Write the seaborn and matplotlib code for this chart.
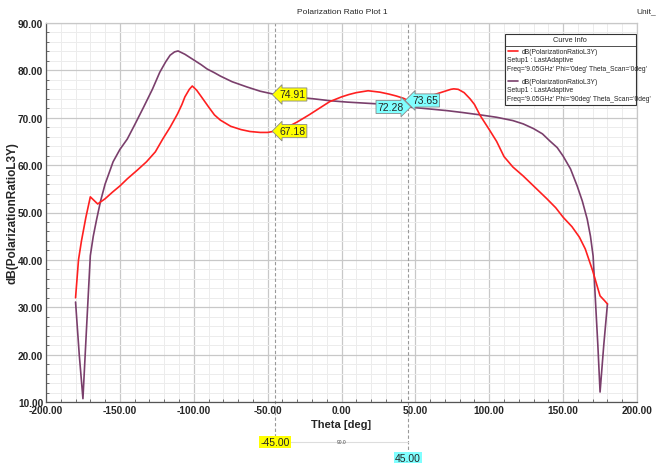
import matplotlib
matplotlib.use("Agg")
import matplotlib.pyplot as plt
from matplotlib import font_manager
from matplotlib.patches import Rectangle
import matplotlib.transforms as mtransforms
from matplotlib.ticker import MultipleLocator, FormatStrFormatter
import seaborn as sns
import pandas as pd

# ---- data ----
theta_phi0 = [-180, -178, -176, -173, -170, -165, -160, -155, -150, -145, -138, -132, -126,
              -121, -116, -111, -108, -106, -103, -101, -98, -95, -90, -86, -82, -75,
              -68, -62, -55, -50, -45, -38, -30, -22, -15, -8, 0, 5, 10, 18, 26, 32,
              37, 42, 45, 48, 52, 56, 60, 65, 70, 74, 76, 79, 83, 87, 90, 94, 100,
              105, 110, 116, 123, 131, 139, 145, 150, 156, 161, 165, 170, 173, 175, 178, 180]
ratio_phi0 = [32.0, 40.0, 44.0, 49.0, 53.3, 51.8, 52.9, 54.3, 55.6, 57.1, 59.0, 60.7, 62.8,
              65.5, 68.0, 70.8, 72.8, 74.4, 76.0, 76.7, 75.8, 74.5, 72.3, 70.6, 69.5, 68.2,
              67.5, 67.1, 66.9, 66.9, 67.18, 67.8, 69.1, 70.6, 72.0, 73.4, 74.4, 74.9, 75.3,
              75.7, 75.4, 75.0, 74.6, 74.1, 73.65, 73.7, 74.0, 74.3, 74.6, 75.1, 75.6, 76.0,
              76.1, 76.0, 75.3, 74.0, 72.8, 70.4, 67.5, 65.0, 61.8, 59.6, 57.7, 55.3, 52.9,
              51.0, 49.0, 47.0, 44.8, 42.3, 37.7, 34.5, 32.4, 31.4, 30.7]

theta_phi90 = [-180, -177.5, -175, -172.5, -170, -168, -165.7, -163, -160, -157, -154.6, -150,
               -145, -140, -134, -128, -123, -119, -116, -113, -110.6, -106, -100.5, -95,
               -91, -86, -82, -74, -64, -55, -45, -32, -19, -8, 4, 15, 26, 35, 45, 58,
               71.5, 82, 94, 105, 116, 123, 130, 136, 141, 146, 150, 155, 159.5, 163,
               166.3, 168.5, 170.3, 171.7, 173.5, 175, 177.5, 180]
ratio_phi90 = [31.1, 20.0, 10.7, 26.0, 40.9, 45.0, 48.6, 52.5, 56.0, 58.6, 60.7, 63.3,
               65.5, 68.5, 72.2, 76.0, 79.6, 81.8, 83.2, 83.9, 84.1, 83.4, 82.3, 81.2,
               80.3, 79.5, 78.8, 77.6, 76.5, 75.6, 74.91, 74.4, 74.0, 73.6, 73.3, 73.1,
               72.9, 72.6, 72.28, 71.9, 71.5, 71.1, 70.6, 70.1, 69.4, 68.7, 67.7, 66.6,
               65.1, 63.7, 61.9, 59.2, 55.6, 52.4, 48.6, 45.0, 40.8, 32.4, 22.0, 12.1,
               22.0, 30.7]

legend_label = "dB(PolarizationRatioL3Y)"
setup_label = "Setup1 : LastAdaptive"
freq_phi0 = "Freq='9.05GHz' Phi='0deg' Theta_Scan='0deg'"
freq_phi90 = "Freq='9.05GHz' Phi='90deg' Theta_Scan='0deg'"
marker_m1 = -45.0
marker_m2 = 45.0
m1_vals = ["74.91", "67.18"]
m2_vals = ["72.28", "73.65"]

# ---- styling ----
sns.set_style("white")
avail = {f.name for f in font_manager.fontManager.ttflist}
fam = "Liberation Sans Narrow" if "Liberation Sans Narrow" in avail else "Liberation Sans"
plt.rcParams["font.family"] = [fam, "DejaVu Sans"]

RED = "#ff2020"
PURPLE = "#7a3f6c"

df0 = pd.DataFrame({"theta": theta_phi0, "val": ratio_phi0})
df90 = pd.DataFrame({"theta": theta_phi90, "val": ratio_phi90})

fig = plt.figure(figsize=(6.61, 4.64), dpi=100)
ax = fig.add_axes([46 / 661, 1 - 403 / 464, 591 / 661, 379 / 464])

sns.lineplot(data=df90, x="theta", y="val", ax=ax, color=PURPLE, lw=1.2,
             estimator=None, sort=False)
sns.lineplot(data=df0, x="theta", y="val", ax=ax, color=RED, lw=1.2,
             estimator=None, sort=False)

ax.set_xlim(-200, 200)
ax.set_ylim(10, 90)
ax.xaxis.set_major_locator(MultipleLocator(50))
ax.xaxis.set_minor_locator(MultipleLocator(10))
ax.yaxis.set_major_locator(MultipleLocator(10))
ax.yaxis.set_minor_locator(MultipleLocator(2))
ax.xaxis.set_major_formatter(FormatStrFormatter("%.2f"))
ax.yaxis.set_major_formatter(FormatStrFormatter("%.2f"))
ax.grid(which="major", color="#c8c8c8", lw=0.9)
ax.grid(which="minor", color="#ececec", lw=0.7)
ax.set_axisbelow(True)
ax.tick_params(which="major", direction="in", length=4, width=0.8, color="#555555",
               labelsize=7.3, pad=2)
ax.tick_params(which="minor", direction="in", length=2, width=0.6, color="#555555",
               bottom=True, left=True)
for lbl in ax.get_xticklabels() + ax.get_yticklabels():
    lbl.set_fontweight("bold")
for s in ["left", "bottom"]:
    ax.spines[s].set_color("#555555")
    ax.spines[s].set_linewidth(0.9)
for s in ["top", "right"]:
    ax.spines[s].set_color("#c8c8c8")
    ax.spines[s].set_linewidth(0.9)

ax.set_xlabel("Theta [deg]", fontsize=8, fontweight="bold", labelpad=3)
ax.set_ylabel(legend_label, fontsize=8.5, fontweight="bold")
ax.yaxis.set_label_coords(-0.047, 0.5)

fig.text(342 / 661, 1 - 12 / 464, "Polarization Ratio Plot 1", fontsize=6,
         ha="center", va="center")
fig.text(0.962, 1 - 12 / 464, "Unit_", fontsize=6, ha="left", va="center")

# ---- markers ----
trans = mtransforms.blended_transform_factory(ax.transData, ax.transAxes)
ax.axvline(marker_m1, ymin=-0.092, ymax=1, color="#999999", ls=(0, (3, 2)), lw=0.8,
           clip_on=False, zorder=1)
ax.axvline(marker_m2, ymin=-0.14, ymax=1, color="#999999", ls=(0, (3, 2)), lw=0.8,
           clip_on=False, zorder=1)

def tag(x, y, txt, fc, side):
    if side == "right":
        ax.annotate(txt, xy=(x, y), xytext=(3, 0), textcoords="offset points",
                    ha="left", va="center", fontsize=7.5,
                    bbox=dict(boxstyle="larrow,pad=0.15", fc=fc, ec="#888888", lw=0.6),
                    zorder=5)
    else:
        ax.annotate(txt, xy=(x, y), xytext=(-3, 0), textcoords="offset points",
                    ha="right", va="center", fontsize=7.5,
                    bbox=dict(boxstyle="rarrow,pad=0.15", fc=fc, ec="#888888", lw=0.6),
                    zorder=5)

tag(marker_m1, float(m1_vals[0]), m1_vals[0], "#ffff00", "right")
tag(marker_m1, float(m1_vals[1]), m1_vals[1], "#ffff00", "right")
tag(marker_m2, float(m2_vals[0]), m2_vals[0], "#80ffff", "left")
tag(marker_m2, float(m2_vals[1]), m2_vals[1], "#80ffff", "right")

ax.text(marker_m1, -0.105, "%.2f" % marker_m1, transform=trans, ha="center", va="center",
        fontsize=7.5, bbox=dict(boxstyle="square,pad=0.1", fc="#ffff00", ec="none"),
        clip_on=False)
ax.text(marker_m2, -0.148, "%.2f" % marker_m2, transform=trans, ha="center", va="center",
        fontsize=7.5, bbox=dict(boxstyle="square,pad=0.1", fc="#80ffff", ec="none"),
        clip_on=False)
ax.plot([marker_m1 + 8, marker_m2], [-0.105, -0.105], transform=trans, color="#dddddd",
        lw=0.8, clip_on=False)
ax.text(0.5 * (marker_m1 + marker_m2), -0.105, "%.1f" % (marker_m2 - marker_m1),
        transform=trans, ha="center", va="center", fontsize=3.5, color="#444444",
        clip_on=False)

# ---- Curve Info box ----
def ax_xy(px, py):
    return (px - 46) / 591, (403 - py) / 379

x0, y0 = ax_xy(505, 106)
x1, y1 = ax_xy(636, 35)
ax.add_patch(Rectangle((x0, y0), x1 - x0, y1 - y0, transform=ax.transAxes,
                       fc="white", ec="#333333", lw=0.8, zorder=6))
tx, ty = ax_xy(570, 41)
ax.text(tx, ty, "Curve Info", transform=ax.transAxes, ha="center", va="center",
        fontsize=5.3, zorder=7)
lx0, ly = ax_xy(505, 47)
lx1, _ = ax_xy(636, 47)
ax.plot([lx0, lx1], [ly, ly], transform=ax.transAxes, color="#333333", lw=0.6, zorder=7)

for (py, col, freq) in [(52, RED, freq_phi0), (82, PURPLE, freq_phi90)]:
    a, b = ax_xy(508, py)
    c, _ = ax_xy(518, py)
    ax.plot([a, c], [b, b], transform=ax.transAxes, color=col, lw=1.2, zorder=7)
    t1x, _ = ax_xy(522, py)
    ax.text(t1x, b, legend_label, transform=ax.transAxes, ha="left", va="center",
            fontsize=4.9, zorder=7)
    sx, sy = ax_xy(507, py + 9)
    ax.text(sx, sy, setup_label, transform=ax.transAxes, ha="left", va="center",
            fontsize=4.9, zorder=7)
    fx, fy = ax_xy(507, py + 17.5)
    ax.text(fx, fy, freq, transform=ax.transAxes, ha="left", va="center",
            fontsize=4.9, zorder=7)

fig.savefig("out.png", dpi=100)
